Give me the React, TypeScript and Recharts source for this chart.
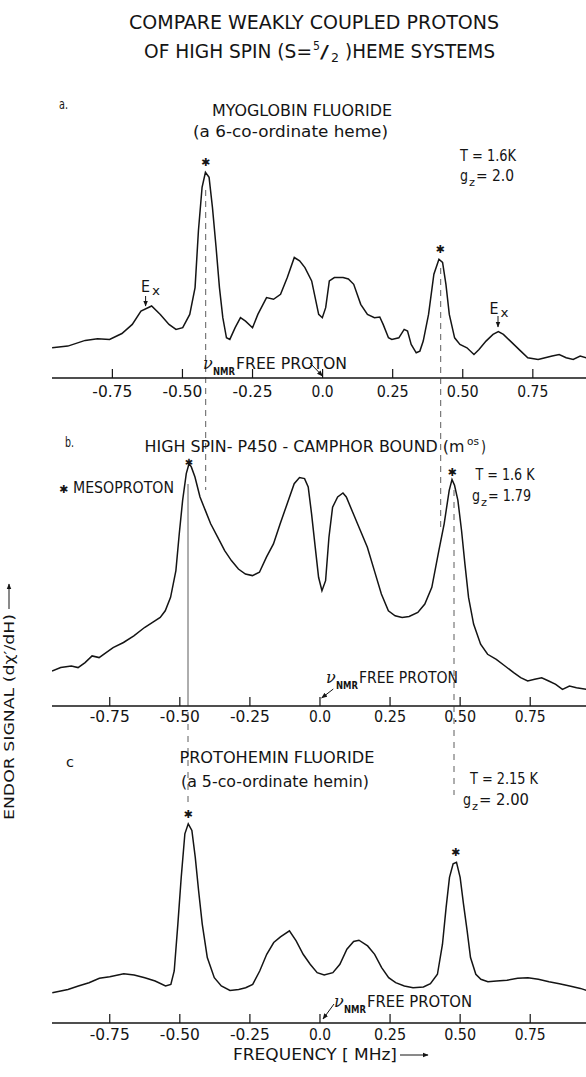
import React from 'react';
import { LineChart, Line, XAxis, YAxis } from 'recharts';

const TICKS = [-0.75, -0.5, -0.25, 0, 0.25, 0.5, 0.75];
const TICK_LABELS = ['-0.75', '-0.50', '-0.25', '0.0', '0.25', '0.50', '0.75'];
const TICK_WIDTHS = [40, 40, 40, 22, 32, 32, 31];

// Panel a: Myoglobin fluoride
const FREQ_A = [-0.965, -0.909, -0.847, -0.803, -0.76, -0.716, -0.679, -0.648, -0.61, -0.579, -0.548, -0.523, -0.499, -0.474, -0.455, -0.443, -0.43, -0.418, -0.405, -0.393, -0.38, -0.368, -0.356, -0.343, -0.331, -0.312, -0.293, -0.275, -0.25, -0.231, -0.2, -0.175, -0.15, -0.126, -0.101, -0.082, -0.063, -0.039, -0.014, -0.001, 0.011, 0.024, 0.042, 0.073, 0.092, 0.111, 0.136, 0.16, 0.185, 0.204, 0.216, 0.235, 0.247, 0.272, 0.291, 0.303, 0.316, 0.334, 0.347, 0.359, 0.378, 0.397, 0.415, 0.428, 0.44, 0.452, 0.471, 0.49, 0.515, 0.54, 0.558, 0.583, 0.608, 0.627, 0.645, 0.67, 0.707, 0.732, 0.769, 0.794, 0.819, 0.844, 0.869, 0.894, 0.919, 0.941];
const SIG_A = [30.2, 31.9, 37.6, 39.2, 38.6, 44.5, 53.6, 67.0, 72.0, 63.6, 53.6, 48.6, 50.3, 63.6, 90.4, 147.2, 190.7, 205.7, 200.7, 170.6, 130.5, 90.4, 60.3, 40.2, 38.6, 50.3, 60.3, 56.9, 50.3, 63.6, 80.4, 78.7, 83.7, 100.4, 120.5, 117.1, 110.4, 97.1, 63.6, 60.3, 70.3, 97.1, 100.4, 100.4, 99.0, 93.7, 73.7, 63.6, 60.3, 61.0, 53.6, 40.2, 38.6, 40.2, 48.6, 46.9, 33.6, 25.2, 26.9, 36.9, 63.6, 103.8, 118.8, 115.5, 93.7, 63.6, 40.2, 33.6, 30.2, 23.5, 28.5, 36.9, 43.6, 46.3, 43.6, 36.9, 26.9, 20.2, 18.5, 20.2, 21.9, 23.5, 20.2, 18.5, 21.9, 20.2];

// Panel b: High spin P450 - camphor bound
const FREQ_B = [-0.956, -0.925, -0.887, -0.863, -0.838, -0.813, -0.788, -0.763, -0.738, -0.701, -0.664, -0.626, -0.589, -0.57, -0.552, -0.533, -0.514, -0.502, -0.49, -0.477, -0.467, -0.459, -0.446, -0.428, -0.409, -0.39, -0.365, -0.34, -0.316, -0.291, -0.266, -0.241, -0.216, -0.191, -0.166, -0.142, -0.117, -0.092, -0.073, -0.055, -0.042, -0.03, -0.017, -0.005, 0.007, 0.02, 0.032, 0.045, 0.063, 0.082, 0.094, 0.119, 0.144, 0.169, 0.194, 0.219, 0.244, 0.268, 0.293, 0.318, 0.349, 0.374, 0.399, 0.424, 0.443, 0.461, 0.471, 0.48, 0.492, 0.505, 0.517, 0.53, 0.548, 0.573, 0.598, 0.629, 0.66, 0.691, 0.716, 0.741, 0.766, 0.791, 0.816, 0.841, 0.865, 0.89, 0.915, 0.95];
const SIG_B = [35.0, 38.4, 40.0, 38.4, 43.4, 50.1, 48.4, 53.4, 58.4, 63.5, 70.1, 78.5, 85.2, 88.5, 95.2, 108.6, 135.4, 172.2, 205.6, 232.4, 242.4, 239.1, 229.0, 209.0, 195.6, 182.2, 168.8, 155.4, 145.4, 137.0, 132.0, 130.4, 133.7, 148.8, 162.1, 182.2, 202.3, 222.3, 228.4, 227.4, 219.0, 192.2, 158.8, 128.7, 115.3, 125.3, 168.8, 198.9, 209.0, 213.0, 209.0, 192.2, 175.5, 158.8, 135.4, 112.0, 95.2, 90.2, 88.5, 89.5, 93.6, 101.9, 118.6, 155.4, 182.2, 215.7, 226.4, 220.7, 205.6, 175.5, 142.1, 108.6, 81.9, 61.8, 51.7, 46.7, 40.0, 33.3, 28.3, 25.0, 26.7, 28.3, 25.0, 21.6, 16.6, 20.0, 18.3, 16.6];

// Panel c: Protohemin fluoride
const FREQ_C = [-0.955, -0.899, -0.862, -0.824, -0.787, -0.75, -0.7, -0.663, -0.625, -0.588, -0.551, -0.532, -0.52, -0.507, -0.495, -0.482, -0.47, -0.457, -0.445, -0.433, -0.42, -0.402, -0.377, -0.352, -0.321, -0.29, -0.265, -0.24, -0.215, -0.19, -0.165, -0.141, -0.109, -0.085, -0.06, -0.035, -0.01, 0.015, 0.046, 0.071, 0.096, 0.12, 0.139, 0.17, 0.195, 0.22, 0.245, 0.27, 0.301, 0.332, 0.369, 0.394, 0.419, 0.437, 0.45, 0.462, 0.475, 0.487, 0.5, 0.512, 0.525, 0.537, 0.556, 0.574, 0.599, 0.63, 0.667, 0.705, 0.742, 0.779, 0.817, 0.854, 0.891, 0.929, 0.951];
const SIG_C = [30.3, 33.6, 37.0, 40.3, 44.7, 46.3, 49.3, 48.0, 45.3, 42.0, 37.0, 38.6, 52.0, 98.9, 145.7, 189.2, 199.2, 192.5, 165.8, 132.3, 98.9, 65.4, 45.3, 37.0, 32.6, 33.6, 35.3, 38.6, 52.0, 68.7, 80.5, 86.1, 92.2, 82.1, 68.7, 58.7, 50.3, 48.0, 50.3, 58.7, 73.8, 81.5, 82.8, 77.1, 68.7, 55.4, 45.3, 40.3, 37.0, 35.3, 36.0, 39.3, 48.7, 78.8, 115.6, 145.7, 159.1, 160.7, 145.7, 118.9, 92.2, 65.4, 48.7, 43.7, 41.3, 42.0, 42.7, 44.7, 45.3, 43.7, 41.3, 39.3, 37.0, 34.6, 32.6];

const zip = (f: number[], s: number[]) => f.map((v, i) => ({ f: v, s: s[i] }));
const DATA_A = zip(FREQ_A, SIG_A);
const DATA_B = zip(FREQ_B, SIG_B);
const DATA_C = zip(FREQ_C, SIG_C);

const FONT = '"DejaVu Sans Condensed", "Liberation Sans Narrow", "DejaVu Sans", sans-serif';
const INK = '#141414';

const makeTick = (dy: number) => (props: any) => {
  const { x, y, payload } = props;
  const i = TICKS.indexOf(payload.value);
  const label = i >= 0 ? TICK_LABELS[i] : String(payload.value);
  const w = i >= 0 ? TICK_WIDTHS[i] : 30;
  return (
    <g>
      <line x1={x} x2={x} y1={y} y2={y - 9} stroke={INK} strokeWidth={1.2} />
      <text x={x} y={y + dy} textAnchor="middle" dominantBaseline="central" fontSize={16}
        fontFamily={FONT} fill={INK} textLength={w} lengthAdjust="spacingAndGlyphs">{label}</text>
    </g>
  );
};

type PanelProps = {
  data: { f: number; s: number }[];
  domain: [number, number];
  top: number;
  marginTop: number;
  plotH: number;
  axisH: number;
  labelDy: number;
};

function Panel({ data, domain, top, marginTop, plotH, axisH, labelDy }: PanelProps) {
  return (
    <div style={{ position: 'absolute', left: 0, top }}>
      <LineChart width={586} height={marginTop + plotH + axisH} data={data}
        margin={{ top: marginTop, right: 0, bottom: 0, left: 52 }}>
        <XAxis dataKey="f" type="number" domain={domain} allowDataOverflow ticks={TICKS} interval={0}
          tickSize={0} tickMargin={0} tickLine={false} tick={makeTick(labelDy)}
          axisLine={{ stroke: INK, strokeWidth: 1.6 }} height={axisH} />
        <XAxis xAxisId="top" orientation="top" dataKey="f" type="number" domain={domain} allowDataOverflow
          tick={false} tickLine={false} axisLine={{ stroke: INK, strokeWidth: 1.6 }} height={0} />
        <YAxis type="number" domain={[0, plotH]} allowDataOverflow width={0} tick={false} tickLine={false}
          axisLine={{ stroke: INK, strokeWidth: 1.6 }} />
        <Line type="linear" dataKey="s" stroke={INK} strokeWidth={1.5} dot={false} isAnimationActive={false} />
      </LineChart>
    </div>
  );
}

const T = ({ x, y, w, size = 16, children, weight = 'normal' }: any) => (
  <text x={x} y={y} fontSize={size} fontFamily={FONT} fill={INK} fontWeight={weight}
    dominantBaseline="central" textLength={w} lengthAdjust="spacingAndGlyphs">{children}</text>
);

const Star = ({ x, y, size = 11 }: { x: number; y: number; size?: number }) => (
  <text x={x} y={y} fontSize={size} fontFamily='"DejaVu Sans", sans-serif' fill={INK}
    textAnchor="middle" dominantBaseline="central">✱</text>
);

const Arrow = ({ x1, y1, x2, y2 }: any) => (
  <line x1={x1} y1={y1} x2={x2} y2={y2} stroke={INK} strokeWidth={1} markerEnd="url(#ah)" />
);

const GZ = ({ x, y, rest, restW }: any) => (
  <g>
    <T x={x} y={y} w={8} size={16}>g</T>
    <T x={x + 9} y={y + 7} w={6} size={11}>z</T>
    <T x={x + 16} y={y} w={restW} size={16}>{rest}</T>
  </g>
);

const NuNMR = ({ x, y, freeW }: any) => (
  <g>
    <text x={x} y={y} fontSize={16} fontFamily='"DejaVu Serif", serif' fontStyle="italic" fill={INK}
      dominantBaseline="central">ν</text>
    <T x={x + 10} y={y + 8} w={22} size={10} weight="bold">NMR</T>
    <T x={x + 33} y={y} w={freeW} size={16}>FREE PROTON</T>
  </g>
);

function Overlay() {
  return (
    <svg width={586} height={1077} style={{ position: 'absolute', left: 0, top: 0, pointerEvents: 'none' }}>
      <defs>
        <marker id="ah" viewBox="0 0 10 10" refX="9" refY="5" markerWidth="6" markerHeight="6" orient="auto">
          <path d="M0,1 L10,5 L0,9 z" fill={INK} />
        </marker>
      </defs>

      {/* Title */}
      <T x={129} y={22} w={370} size={20}>COMPARE WEAKLY COUPLED PROTONS</T>
      <T x={144} y={51} w={168} size={20}>OF HIGH SPIN (S=</T>
      <T x={313} y={45} w={7} size={13}>5</T>
      <T x={320} y={51} w={9} size={18}>/</T>
      <T x={331} y={57} w={8} size={13}>2</T>
      <T x={345} y={51} w={150} size={20}>)HEME SYSTEMS</T>

      {/* Y-axis label */}
      <g transform="translate(9,820) rotate(-90)">
        <T x={0} y={0} w={206} size={14}>ENDOR SIGNAL (dχ′/dH)</T>
        <Arrow x1={211} y1={0} x2={236} y2={0} />
      </g>

      {/* X-axis label */}
      <T x={233} y={1055} w={164} size={15}>FREQUENCY [ MHz]</T>
      <Arrow x1={400} y1={1055} x2={428} y2={1055} />

      {/* alignment lines */}
      <line x1={205.7} x2={205.7} y1={190} y2={490} stroke="#333" strokeWidth={0.8} strokeDasharray="6 5" />
      <line x1={440.7} x2={440.7} y1={268} y2={530} stroke="#333" strokeWidth={0.8} strokeDasharray="6 5" />
      <line x1={188} x2={188} y1={484} y2={700} stroke="#333" strokeWidth={0.8} />
      <line x1={188} x2={188} y1={700} y2={805} stroke="#333" strokeWidth={0.8} strokeDasharray="6 6" />
      <line x1={454} x2={454} y1={490} y2={795} stroke="#333" strokeWidth={0.8} strokeDasharray="6 6" />

      {/* Panel a */}
      <T x={59} y={104} w={9} size={14}>a.</T>
      <T x={212} y={110} w={180} size={16}>MYOGLOBIN FLUORIDE</T>
      <T x={193} y={131} w={195} size={16}>(a  6-co-ordinate  heme)</T>
      <T x={460} y={155} w={56} size={16}>T = 1.6K</T>
      <GZ x={460} y={175} rest="= 2.0" restW={38} />
      <Star x={205.5} y={162} />
      <Star x={440} y={249} />
      <T x={141} y={286} w={9} size={16}>E</T>
      <T x={152} y={290} w={8} size={13}>x</T>
      <Arrow x1={145.6} y1={296} x2={145.6} y2={306} />
      <T x={489.5} y={308} w={9} size={16}>E</T>
      <T x={500.5} y={312} w={8} size={13}>x</T>
      <Arrow x1={498} y1={316} x2={498} y2={327} />
      <NuNMR x={203} y={363} freeW={111} />
      <Arrow x1={310} y1={363} x2={322.5} y2={376} />

      {/* Panel b */}
      <T x={65} y={442} w={9} size={14}>b.</T>
      <T x={144.5} y={447} w={320} size={15}>HIGH SPIN- P450 - CAMPHOR BOUND (m</T>
      <T x={467} y={441} w={12} size={11}>os</T>
      <T x={481} y={447} w={5} size={15}>)</T>
      <Star x={63.5} y={489} />
      <T x={73} y={487} w={101} size={16}>MESOPROTON</T>
      <Star x={189} y={462} size={10} />
      <Star x={452} y={472} />
      <T x={475.5} y={474} w={59} size={16}>T = 1.6 K</T>
      <GZ x={472} y={495} rest="= 1.79" restW={43} />
      <NuNMR x={326} y={677} freeW={99} />
      <Arrow x1={333.3} y1={689} x2={321.7} y2={698} />

      {/* Panel c */}
      <T x={66} y={762} w={8} size={14}>c</T>
      <T x={179.4} y={757} w={195} size={16}>PROTOHEMIN FLUORIDE</T>
      <T x={181} y={781} w={188} size={16}>(a  5-co-ordinate  hemin)</T>
      <T x={470} y={778} w={68} size={16}>T = 2.15 K</T>
      <GZ x={463} y={799} rest="= 2.00" restW={50} />
      <Star x={188} y={814} />
      <Star x={455.7} y={852} />
      <NuNMR x={334} y={1001} freeW={105} />
      <Arrow x1={334} y1={1004} x2={323} y2={1019} />
    </svg>
  );
}

export default function App() {
  return (
    <div style={{ position: 'absolute', left: 0, top: 0, width: 586, height: 1077, overflow: 'hidden', background: '#fff' }}>
      <Panel data={DATA_A} domain={[-0.9654, 0.9397]} top={0} marginTop={89} plotH={289} axisH={30} labelDy={13} />
      <Panel data={DATA_B} domain={[-0.956, 0.949]} top={408} marginTop={10} plotH={288} axisH={29} labelDy={10} />
      <Panel data={DATA_C} domain={[-0.956, 0.949]} top={733} marginTop={2} plotH={288} axisH={30} labelDy={11} />
      <Overlay />
    </div>
  );
}
